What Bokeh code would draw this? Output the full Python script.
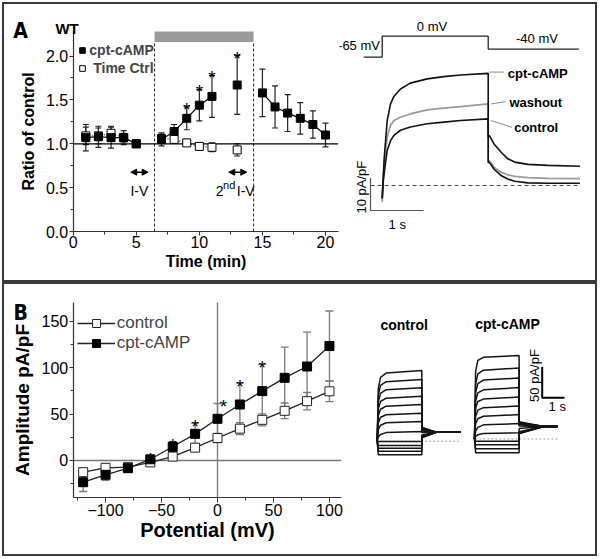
import math
from bokeh.plotting import figure
from bokeh.layouts import row, column
from bokeh.models import (Range1d, Whisker, ColumnDataSource, TeeHead, NormalHead,
                          Arrow, Label, Legend, LegendItem, PrintfTickFormatter, FixedTicker)
from bokeh.embed import file_html
from bokeh.resources import INLINE
from bokeh.core.properties import value

FONT = "Liberation Sans"
NARROW = "Liberation Sans Narrow, DejaVu Sans Condensed, Liberation Sans"

# ---------------- Panel A (left): ratio of control vs time ----------------
camp_time = [1, 2, 3, 4, 5, 7, 8, 9, 10, 11, 13, 15, 16, 17, 18, 19, 20]
camp_ratio = [1.07, 1.08, 1.07, 1.07, 1.00, 1.05, 1.14, 1.29, 1.44, 1.54, 1.67, 1.58, 1.42, 1.35, 1.29, 1.22, 1.10]
camp_err = [0.15, 0.12, 0.12, 0.08, 0.0, 0.075, 0.08, 0.13, 0.18, 0.24, 0.335, 0.27, 0.24, 0.21, 0.18, 0.155, 0.135]
ctrl_time = [1, 2, 3, 4, 5, 7, 8, 9, 10, 11, 13]
ctrl_ratio = [1.09, 1.09, 1.12, 1.07, 1.00, 1.06, 1.05, 1.01, 0.97, 0.96, 0.93]
ctrl_err = [0.10, 0.09, 0.08, 0.05, 0.0, 0.05, 0.04, 0.04, 0.04, 0.05, 0.07]
signif_time = [9, 10, 11, 13]
drug_on, drug_off = 6.45, 14.3
iv_windows = [(4.56, 5.94), (12.33, 13.76)]
xticks_A = [0, 5, 10, 15, 20]
yticks_A = [0.0, 0.5, 1.0, 1.5, 2.0]

# ---------------- Panel A (right): example current traces ----------------
protocol_t = [-0.35, 0.0, 0.0, 2.0, 2.0, 3.71]
protocol_mv = [-65, -65, 0, 0, -40, -40]
step_t = [0.0, 0.018, 0.043, 0.094, 0.157, 0.22, 0.345, 0.53, 0.85, 1.16, 1.48, 2.0]
tail_t = [2.0, 2.02, 2.11, 2.24, 2.37, 2.5, 2.75, 3.13, 3.73]
camp_step_I = [-4, 2.4, 9.7, 20.0, 25.1, 27.4, 29.7, 31.5, 32.8, 33.5, 34.0, 34.5]
camp_tail_I = [15.0, 15.4, 12.8, 10.3, 8.2, 7.2, 6.5, 6.2, 5.9]
wash_step_I = [-5, 2.0, 8.0, 14.9, 18.5, 20.0, 21.0, 22.0, 23.3, 23.8, 24.3, 25.1]
wash_tail_I = [7.5, 7.7, 5.6, 4.1, 3.3, 2.8, 2.4, 2.2, 2.1]
ctl_step_I = [-4, 1.0, 4.6, 10.8, 13.8, 15.4, 17.0, 18.0, 19.0, 19.5, 20.0, 20.5]
ctl_tail_I = [7.0, 7.2, 5.0, 3.1, 2.0, 1.3, 0.8, 0.7, 0.7]

# ---------------- Panel B (left): I-V relation ----------------
potential_mv = [-120, -100, -80, -60, -40, -20, 0, 20, 40, 60, 80, 100]
ctrl_amp = [-12.6, -7.9, -7.2, -2.0, 4.2, 13.8, 24.2, 34.3, 43.8, 53.5, 63.9, 74.5]
ctrl_sem = [4, 3, 2, 2, 3, 4, 5, 6.5, 6.5, 8.4, 9.3, 11]
camp_amp = [-23.4, -15.4, -8.3, 1.3, 14.8, 28.7, 44.9, 60.3, 74.7, 89.0, 101.2, 123.3]
camp_sem = [10, 6, 3, 3, 5, 11.5, 16.5, 23, 28.7, 33, 37, 37.7]
signif_mv = [-60, -40, -20, 0, 20, 40]
xticks_B = [-100, -50, 0, 50, 100]
yticks_B = [0, 50, 100, 150]

# ---------------- Panel B (right): current families ----------------
fam_step_t = [0.0, 0.05, 0.15, 0.4, 2.0]
fam_ctrl_step = [
    [0, 86, 104, 111, 115], [0, 75, 91, 97, 100.5], [0, 64, 78, 84, 87],
    [0, 53, 65, 70, 73.3], [0, 42, 52, 57, 59.8], [0, 30, 39, 43, 45.6],
    [0, 19, 26, 30, 32.1], [0, 7, 11, 14, 15.8], [0, -0.5, -0.5, -0.5, -0.5],
    [0, -7, -7, -7, -7], [0, -11.4, -11.4, -11.4, -11.4],
    [0, -16.3, -16.3, -16.3, -16.3], [0, -22.1, -22.1, -22.1, -22.1]]
fam_ctrl_tail_t = [2.0, 2.65, 3.74]
fam_ctrl_tail = [
    [23, 14.6, 14.6], [22, 14.6, 14.6], [21, 14.6, 14.6], [20, 14.6, 14.6],
    [19, 14.6, 14.6], [18, 14.6, 14.6], [16.5, 14.6, 14.6], [14, 14.6, 14.6],
    [10, 14.6, 14.6], [8, 14.6, 14.6], [7, 14.6, 14.6], [6, 14.6, 14.6], [5.5, 14.6, 14.6]]
fam_camp_step = [
    [0, 110, 128, 133, 136], [0, 90, 106, 112, 115.5], [0, 76, 90, 96, 99.2],
    [0, 62, 75, 80, 83.7], [0, 50, 61, 65, 68.4], [0, 37, 47, 51, 53.7],
    [0, 25, 33, 37, 39.7], [0, 13, 19, 23, 25.1], [0, 4, 7, 9, 10.1],
    [0, -3.6, -3.6, -3.6, -3.6], [0, -9.4, -9.4, -9.4, -9.4],
    [0, -16, -16, -16, -16], [0, -22.5, -22.5, -22.5, -22.5]]
fam_camp_tail_t = [2.0, 3.1, 3.72]
fam_camp_tail = [
    [28, 20.4, 20.4], [27, 20.4, 20.4], [26.5, 20.4, 20.4], [26, 20.4, 20.4],
    [25, 20.4, 20.4], [24, 20.4, 20.4], [23, 20.4, 20.4], [21, 20.4, 20.4],
    [17, 20.4, 20.4], [12, 20.4, 20.4], [10.5, 20.4, 20.4], [9.5, 20.4, 20.4], [8.5, 20.4, 20.4]]


def canvas_fig(w, h, xr, yr, axes=True):
    kw = {} if axes else dict(x_axis_type=None, y_axis_type=None)
    p = figure(width=w, height=h, x_range=Range1d(*xr), y_range=Range1d(*yr),
               output_backend="svg", toolbar_location=None, min_border=0, **kw)
    p.xgrid.visible = False
    p.ygrid.visible = False
    p.outline_line_color = None
    p.background_fill_color = "white"
    p.border_fill_color = "white"
    return p


def style_axes(p, tick_size, label_size):
    for ax in p.axis:
        ax.axis_line_color = "#333333"
        ax.axis_line_width = 1.2
        ax.major_tick_line_color = "#333333"
        ax.minor_tick_line_color = "#333333"
        ax.major_tick_in = 0
        ax.minor_tick_in = 0
        ax.major_label_text_font = FONT
        ax.major_label_text_font_size = tick_size
        ax.major_label_text_color = "black"
        ax.axis_label_text_font = FONT
        ax.axis_label_text_font_style = "bold"
        ax.axis_label_text_font_size = label_size
        ax.axis_label_text_color = "black"


def runs(xs, ys, gap=1.5):
    gx, gy = [[xs[0]]], [[ys[0]]]
    for i in range(1, len(xs)):
        if xs[i] - xs[i - 1] > gap:
            gx.append([])
            gy.append([])
        gx[-1].append(xs[i])
        gy[-1].append(ys[i])
    return gx, gy


def whisker(p, xs, ys, es, color, size, width):
    src = ColumnDataSource(dict(x=xs, lo=[y - e for y, e in zip(ys, es)], hi=[y + e for y, e in zip(ys, es)]))
    w = Whisker(base="x", lower="lo", upper="hi", source=src, line_color=color, line_width=width,
                upper_head=TeeHead(size=size, line_color=color, line_width=width),
                lower_head=TeeHead(size=size, line_color=color, line_width=width))
    p.add_layout(w)


def label(p, x, y, text, size, bold=False, align="left", baseline="alphabetic", font=FONT, **kw):
    p.add_layout(Label(x=x, y=y, text=text, text_align=align, text_baseline=baseline,
                       text_font=font, text_font_size=size,
                       text_font_style="bold" if bold else "normal", text_color="black", **kw))


# ======================= Panel A left =======================
XA, YA = (0, 21), (0, 2.28)
pA = canvas_fig(335, 276, (-5.446, 21.11), (-0.5586, 2.5878))
pA.xaxis.ticker = FixedTicker(ticks=xticks_A, minor_ticks=[2.5, 7.5, 12.5, 17.5])
pA.yaxis.ticker = FixedTicker(ticks=yticks_A, minor_ticks=[0.25, 0.75, 1.25, 1.75])
pA.yaxis.formatter = PrintfTickFormatter(format="%.1f")
pA.xaxis.fixed_location = YA[0]
pA.yaxis.fixed_location = XA[0]
pA.xaxis.bounds = XA
pA.yaxis.bounds = YA
pA.xaxis.axis_label = "Time (min)"
pA.yaxis.axis_label = "Ratio of control"
style_axes(pA, "16px", "16px")
pA.xaxis.major_tick_out = 4
pA.xaxis.minor_tick_out = 3
pA.xaxis.major_label_standoff = 0
pA.xaxis.axis_label_standoff = 2
pA.yaxis.major_tick_out = 4
pA.yaxis.minor_tick_out = 3
pA.yaxis.major_label_standoff = 1
pA.yaxis.axis_label_standoff = 6

pA.quad(left=[drug_on], right=[drug_off], bottom=[2.16], top=[YA[1]], fill_color="#9a9a9a", line_color=None)
pA.segment(x0=[drug_on, drug_off], y0=[0, 0], x1=[drug_on, drug_off], y1=[2.16, 2.16],
           line_color="#222222", line_width=1, line_dash="3 2")
pA.segment(x0=[XA[0]], y0=[1.0], x1=[XA[1]], y1=[1.0], line_color="black", line_width=1.3)

whisker(pA, ctrl_time, ctrl_ratio, ctrl_err, "#222222", 6, 1.1)
whisker(pA, camp_time, camp_ratio, camp_err, "#222222", 6, 1.2)
gx, gy = runs(ctrl_time, ctrl_ratio)
pA.multi_line(gx, gy, line_color="#222222", line_width=1.2, line_dash="1 2")
gx, gy = runs(camp_time, camp_ratio)
pA.multi_line(gx, gy, line_color="black", line_width=1.2)
ctrl_sc = pA.scatter(ctrl_time, ctrl_ratio, marker="square", size=8, fill_color="white", line_color="black", line_width=1)
camp_sc = pA.scatter(camp_time, camp_ratio, marker="square", size=8, fill_color="black", line_color="black")

star_px_A = (9 - 0.6 * 19) / 87.72
star_y_A = [camp_ratio[camp_time.index(t)] + camp_err[camp_time.index(t)] + star_px_A for t in signif_time]
pA.text(x=signif_time, y=star_y_A, text=["*"] * len(signif_time), text_font=value(FONT),
        text_font_size="19px", text_align="center", text_baseline="alphabetic", text_color="black")

legA = Legend(items=[LegendItem(label="cpt-cAMP", renderers=[camp_sc]),
                     LegendItem(label=" Time Ctrl", renderers=[ctrl_sc])],
              location=(71.3, 202.7), glyph_width=14, glyph_height=18, label_height=18,
              label_standoff=0, spacing=0, padding=0, margin=0,
              border_line_alpha=0, background_fill_alpha=0,
              label_text_font=FONT, label_text_font_size="14px", label_text_font_style="bold")
pA.add_layout(legA)

for (a, b) in iv_windows:
    pA.add_layout(Arrow(start=NormalHead(size=6, fill_color="black", line_color="black"),
                        end=NormalHead(size=6, fill_color="black", line_color="black"),
                        x_start=a, y_start=0.676, x_end=b, y_end=0.676, line_width=1.6, line_color="black"))
label(pA, 5.25, 0.467, "I-V", "14px", align="center")
label(pA, 11.3, 0.467, "2", "14px")
label(pA, 11.88, 0.53, "nd", "11px")
label(pA, 12.97, 0.467, "I-V", "14px")
label(pA, -4.75, 2.29, "A", "21px", bold=True, font=NARROW)
label(pA, -1.41, 2.311, "WT", "15px", bold=True)

# ======================= Panel A right =======================
pT = canvas_fig(256, 276, (-0.806, 4.0245), (-29.23, 55.69), axes=False)
pT.extra_y_ranges = {"mv": Range1d(-756.3, 98.14)}
pT.line(protocol_t, protocol_mv, y_range_name="mv", line_color="#222222", line_width=1.3)
pT.line([-0.22, 3.74], [0, 0], line_color="#444444", line_width=1, line_dash="4 3")
pT.line(step_t + tail_t, wash_step_I + wash_tail_I, line_color="#9a9a9a", line_width=1.8)
pT.line(step_t + tail_t, ctl_step_I + ctl_tail_I, line_color="#111111", line_width=1.6)
pT.line(step_t + tail_t, camp_step_I + camp_tail_I, line_color="#111111", line_width=1.6)
sb_t, sb_I = -0.221, -7.7
pT.line([sb_t, sb_t, sb_t + 1], [sb_I + 10, sb_I, sb_I], line_color="#555555", line_width=1.2)
label(pT, -0.39, -0.5, "10 pA/pF", "13px", align="center", baseline="middle", angle=math.pi / 2)
label(pT, 0.283, -9.6, "1 s", "13px", align="center", baseline="top")
label(pT, -0.438, -28.8, "-65 mV", "13px", align="center", baseline="middle", y_range_name="mv")
label(pT, 0.94, 30, "0 mV", "13px", align="center", baseline="middle", y_range_name="mv")
label(pT, 2.92, -7.1, "-40 mV", "13px", align="center", baseline="middle", y_range_name="mv")
pT.segment(x0=[2.02, 2.05, 2.05], y0=[34.9, 25.1, 20.0], x1=[2.3, 2.33, 2.45], y1=[34.9, 25.8, 17.9],
           line_color="#8a8a8a", line_width=1)
for (tx, ty, s) in [(2.37, 34.5, "cpt-cAMP"), (2.4, 25.6, "washout"), (2.49, 17.7, "control")]:
    label(pT, tx, ty, s, "13px", bold=True, baseline="middle")

# ======================= Panel B left =======================
XB, YB = (-128.9, 110.5), (-40, 170)
pB = canvas_fig(341, 270, (-190.26, 114.34), (-101.22, 189.51))
pB.xaxis.ticker = FixedTicker(ticks=xticks_B, minor_ticks=[-125, -75, -25, 25, 75])
pB.yaxis.ticker = FixedTicker(ticks=yticks_B, minor_ticks=[-25, 25, 75, 125])
pB.xaxis.fixed_location = YB[0]
pB.yaxis.fixed_location = XB[0]
pB.xaxis.bounds = XB
pB.yaxis.bounds = YB
pB.xaxis.axis_label = "Potential (mV)"
pB.yaxis.axis_label = "Amplitude pA/pF"
style_axes(pB, "16px", "20px")
pB.yaxis.axis_label_text_font_size = "19px"
pB.xaxis.major_tick_out = 5
pB.xaxis.minor_tick_out = 3
pB.xaxis.major_label_standoff = 1
pB.xaxis.axis_label_standoff = 0
pB.yaxis.major_tick_out = 4
pB.yaxis.minor_tick_out = 3
pB.yaxis.major_label_standoff = 1
pB.yaxis.axis_label_standoff = 6

pB.segment(x0=[XB[0], 0], y0=[0, YB[0]], x1=[XB[1], 0], y1=[0, YB[1]], line_color="#777777", line_width=1.3)
whisker(pB, potential_mv, ctrl_amp, ctrl_sem, "#7a7a7a", 8, 1.3)
whisker(pB, potential_mv, camp_amp, camp_sem, "#7a7a7a", 8, 1.3)
ctl_line = pB.line(potential_mv, ctrl_amp, line_color="#222222", line_width=1.3)
camp_line = pB.line(potential_mv, camp_amp, line_color="#222222", line_width=1.3)
ctl_scB = pB.scatter(potential_mv, ctrl_amp, marker="square", size=9, fill_color="white", line_color="#222222", line_width=1)
camp_scB = pB.scatter(potential_mv, camp_amp, marker="square", size=9, fill_color="black", line_color="black")

star_px_B = (8.5 - 0.6 * 19) / 0.9287
star_y_B = [camp_amp[potential_mv.index(v)] + camp_sem[potential_mv.index(v)] + star_px_B for v in signif_mv]
star_dx_B = [0, 0, 0, 6, 0, 0]
pB.text(x=signif_mv, y=star_y_B, text=["*"] * len(signif_mv), x_offset=star_dx_B, text_font=value(FONT),
        text_font_size="19px", text_align="center", text_baseline="alphabetic", text_color="black")

legB = Legend(items=[LegendItem(label="control", renderers=[ctl_line, ctl_scB]),
                     LegendItem(label="cpt-cAMP", renderers=[camp_line, camp_scB])],
              location=(72.7, 200.7), glyph_width=38, glyph_height=20, label_height=20,
              label_standoff=2, spacing=0, padding=0, margin=0,
              border_line_alpha=0, background_fill_alpha=0,
              label_text_font=FONT, label_text_font_size="17px")
pB.add_layout(legB)
label(pB, -182.2, 158.3, "B", "21px", bold=True, font=NARROW)

# ======================= Panel B right =======================
pF = canvas_fig(250, 270, (-1.4215, 9.789), (-184.5, 255.2), axes=False)
pF.extra_x_ranges = {"campx": Range1d(-5.785, 5.426)}
pF.extra_y_ranges = {"campy": Range1d(-188.1, 251.6)}
pF.line([0, 3.74], [0, 0], line_color="#8a8a8a", line_width=0.8, line_dash="2 2")
pF.line([0.04, 3.72], [0, 0], x_range_name="campx", y_range_name="campy",
        line_color="#8a8a8a", line_width=0.8, line_dash="2 2")
pF.multi_line([fam_step_t + fam_ctrl_tail_t for _ in fam_ctrl_step],
              [s + t for s, t in zip(fam_ctrl_step, fam_ctrl_tail)],
              line_color="#151515", line_width=1.5)
pF.multi_line([fam_step_t + fam_camp_tail_t for _ in fam_camp_step],
              [s + t for s, t in zip(fam_camp_step, fam_camp_tail)],
              x_range_name="campx", y_range_name="campy", line_color="#151515", line_width=1.5)
sbx, sby = 3.036, 67.1
pF.line([sbx, sbx, sbx + 1], [sby + 50, sby, sby], x_range_name="campx", y_range_name="campy",
        line_color="black", line_width=2)
label(pF, 2.69, 103.4, "50 pA/pF", "13px", align="center", baseline="middle", angle=math.pi / 2,
      x_range_name="campx", y_range_name="campy")
label(pF, 3.71, 52.9, "1 s", "13px", align="center", baseline="middle",
      x_range_name="campx", y_range_name="campy")
label(pF, 1.21, 190, "control", "14px", bold=True, align="center", baseline="middle")
label(pF, 1.48, 186.5, "cpt-cAMP", "14px", bold=True, align="center", baseline="middle",
      x_range_name="campx", y_range_name="campy")

border = {"border": "2px solid #3a3a3a"}
panelA = row(pA, pT, styles=border)
panelB = row(pB, pF, styles=border)
layout = column(panelA, panelB, styles={"margin-left": "2px", "margin-top": "2px"})

open("out.html", "w").write(file_html(layout, INLINE))
